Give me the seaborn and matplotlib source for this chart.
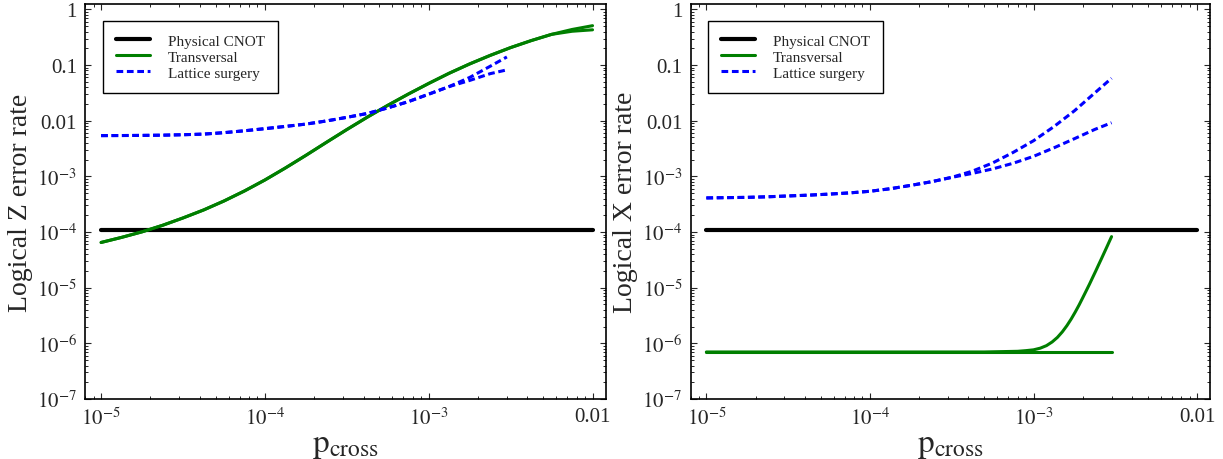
import matplotlib
matplotlib.use("Agg")
import matplotlib.pyplot as plt
from matplotlib.ticker import NullFormatter
import seaborn as sns
import numpy as np
import pandas as pd

# values (log-log axes)
x_full = [1e-5, 1.33e-5, 1.78e-5, 2.37e-5, 3.16e-5, 4.22e-5, 5.62e-5, 7.5e-5,
          1e-4, 1.33e-4, 1.78e-4, 2.37e-4, 3.16e-4, 4.22e-4, 5.62e-4, 7.5e-4,
          1e-3, 1.33e-3, 1.78e-3, 2.37e-3, 3.16e-3, 4.22e-3, 5.62e-3, 7.5e-3, 1e-2]
x_short = [1e-5, 1.33e-5, 1.78e-5, 2.37e-5, 3.16e-5, 4.22e-5, 5.62e-5, 7.5e-5,
           1e-4, 1.33e-4, 1.78e-4, 2.37e-4, 3.16e-4, 4.22e-4, 5.62e-4, 7.5e-4,
           1e-3, 1.33e-3, 1.78e-3, 2.37e-3, 3e-3]
x_rise = [1e-5, 1e-4, 5e-4, 8e-4, 9e-4, 1e-3, 1.1e-3, 1.2e-3, 1.3e-3, 1.4e-3,
          1.5e-3, 1.6e-3, 1.7e-3, 1.8e-3, 1.9e-3, 2e-3, 2.1e-3, 2.2e-3, 2.3e-3,
          2.4e-3, 2.5e-3, 2.6e-3, 2.7e-3, 2.8e-3, 2.9e-3, 3e-3]
x_flat = [1e-5, 1e-4, 1e-3, 3e-3]
x_cnot = [1e-5, 1e-2]

cnot_rate = [1.07e-4, 1.07e-4]

# Logical Z (left panel)
z_trans_a = [6.5e-5, 8.0e-5, 1.01e-4, 1.32e-4, 1.79e-4, 2.49e-4, 3.61e-4, 5.47e-4,
             8.62e-4, 1.41e-3, 2.39e-3, 4.08e-3, 6.93e-3, 1.16e-2, 1.89e-2, 3.01e-2,
             4.68e-2, 7.11e-2, 0.105, 0.149, 0.206, 0.275, 0.356, 0.436, 0.51]
z_trans_b = [6.5e-5, 8.0e-5, 1.01e-4, 1.32e-4, 1.79e-4, 2.49e-4, 3.61e-4, 5.47e-4,
             8.62e-4, 1.41e-3, 2.39e-3, 4.08e-3, 6.93e-3, 1.16e-2, 1.89e-2, 3.01e-2,
             4.68e-2, 7.11e-2, 0.105, 0.149, 0.206, 0.275, 0.356, 0.405, 0.43]
z_lat_a = [5.4e-3, 5.42e-3, 5.45e-3, 5.5e-3, 5.6e-3, 5.75e-3, 6.1e-3, 6.6e-3,
           7.2e-3, 7.9e-3, 8.7e-3, 9.9e-3, 1.15e-2, 1.35e-2, 1.7e-2, 2.2e-2,
           3.0e-2, 4.1e-2, 6.0e-2, 9.5e-2, 0.14]
z_lat_b = [5.4e-3, 5.42e-3, 5.45e-3, 5.5e-3, 5.6e-3, 5.75e-3, 6.1e-3, 6.6e-3,
           7.2e-3, 7.9e-3, 8.7e-3, 9.9e-3, 1.15e-2, 1.35e-2, 1.7e-2, 2.2e-2,
           3.0e-2, 4.1e-2, 5.3e-2, 7.0e-2, 8.2e-2]

# Logical X (right panel)
x_lat_a = [4.1e-4, 4.15e-4, 4.2e-4, 4.3e-4, 4.45e-4, 4.6e-4, 4.8e-4, 5.05e-4,
           5.4e-4, 6.0e-4, 6.9e-4, 8.0e-4, 9.6e-4, 1.24e-3, 1.74e-3, 2.69e-3,
           4.37e-3, 7.8e-3, 1.51e-2, 3.16e-2, 5.8e-2]
x_lat_b = [4.1e-4, 4.15e-4, 4.2e-4, 4.3e-4, 4.45e-4, 4.6e-4, 4.8e-4, 5.05e-4,
           5.4e-4, 6.0e-4, 6.9e-4, 8.0e-4, 9.6e-4, 1.13e-3, 1.36e-3, 1.72e-3,
           2.29e-3, 3.25e-3, 4.76e-3, 6.98e-3, 9.2e-3]
x_trans_a = [7.0e-7, 7.0e-7, 7.0e-7, 7.0e-7]
x_trans_b = [7.0e-7, 7.0e-7, 7.0e-7, 7.2e-7, 7.4e-7, 7.65e-7, 8.2e-7, 9.1e-7,
             1.06e-6, 1.28e-6, 1.61e-6, 2.08e-6, 2.74e-6, 3.66e-6, 4.9e-6, 6.6e-6,
             8.8e-6, 1.16e-5, 1.53e-5, 1.99e-5, 2.58e-5, 3.3e-5, 4.2e-5, 5.3e-5,
             6.65e-5, 8.27e-5]

y_ticks = [1e-7, 1e-6, 1e-5, 1e-4, 1e-3, 1e-2, 1e-1, 1]
y_labels = [r"$10^{-7}$", r"$10^{-6}$", r"$10^{-5}$", r"$10^{-4}$", r"$10^{-3}$",
            "0.01", "0.1", "1"]
x_ticks = [1e-5, 1e-4, 1e-3, 1e-2]
x_labels = [r"$10^{-5}$", r"$10^{-4}$", r"$10^{-3}$", "0.01"]

sns.set_style("ticks")
plt.rcParams["font.family"] = ["Liberation Serif", "DejaVu Serif"]
plt.rcParams["mathtext.fontset"] = "stix"
plt.rcParams["xtick.direction"] = "in"
plt.rcParams["ytick.direction"] = "in"
plt.rcParams["xtick.top"] = True
plt.rcParams["ytick.right"] = True
plt.rcParams["axes.linewidth"] = 1.2
plt.rcParams["axes.edgecolor"] = "black"

green = "#007f00"
blue = "#0000ff"
dash = (0, (2.2, 1.2))

fig = plt.figure(figsize=(12.23, 4.6), dpi=100)
ax1 = fig.add_axes([0.0697, 0.1304, 0.4254, 0.8587])
ax2 = fig.add_axes([0.5646, 0.1304, 0.4248, 0.8587])


def draw_panel(ax, trans, lat, ylabel):
    sns.lineplot(x=x_cnot, y=cnot_rate, ax=ax, color="black", lw=3,
                 label="Physical CNOT", estimator=None)
    (xa, ya), (xb, yb) = trans
    sns.lineplot(x=xa, y=ya, ax=ax, color=green, lw=2.2,
                 label="Transversal", estimator=None)
    sns.lineplot(x=xb, y=yb, ax=ax, color=green, lw=2.2, estimator=None)
    sns.lineplot(x=x_short, y=lat[0], ax=ax, color=blue, lw=2.2,
                 linestyle=dash, label="Lattice surgery", estimator=None)
    sns.lineplot(x=x_short, y=lat[1], ax=ax, color=blue, lw=2.2,
                 linestyle=dash, estimator=None)

    ax.set_xscale("log")
    ax.set_yscale("log")
    ax.set_xlim(8e-6, 1.2e-2)
    ax.set_ylim(1e-7, 1.25)
    ax.set_xticks(x_ticks)
    ax.set_xticklabels(x_labels)
    ax.set_yticks(y_ticks)
    ax.set_yticklabels(y_labels)
    ax.xaxis.set_minor_formatter(NullFormatter())
    ax.yaxis.set_minor_formatter(NullFormatter())
    ax.tick_params(which="major", length=4, width=0.8, labelsize=15, pad=6)
    ax.tick_params(which="minor", length=2.2, width=0.7)
    for s in ax.spines.values():
        s.set_visible(True)
        s.set_color("black")

    ax.set_xlabel(r"$\mathrm{p}_{\mathrm{cross}}$", fontsize=24, labelpad=0)
    ax.set_ylabel(ylabel, fontsize=20, labelpad=3)

    leg = ax.legend(loc="upper left", bbox_to_anchor=(0.034, 0.957),
                    borderaxespad=0, fontsize=11, fancybox=False, framealpha=1,
                    edgecolor="black", handlelength=2.2, handletextpad=1.2,
                    labelspacing=0.15, borderpad=0.85)
    leg.get_frame().set_linewidth(1.0)


draw_panel(ax1, ((x_full, z_trans_a), (x_full, z_trans_b)),
           (z_lat_a, z_lat_b), "Logical Z error rate")
draw_panel(ax2, ((x_flat, x_trans_a), (x_rise, x_trans_b)),
           (x_lat_a, x_lat_b), "Logical X error rate")

fig.savefig("out.png", dpi=100)
